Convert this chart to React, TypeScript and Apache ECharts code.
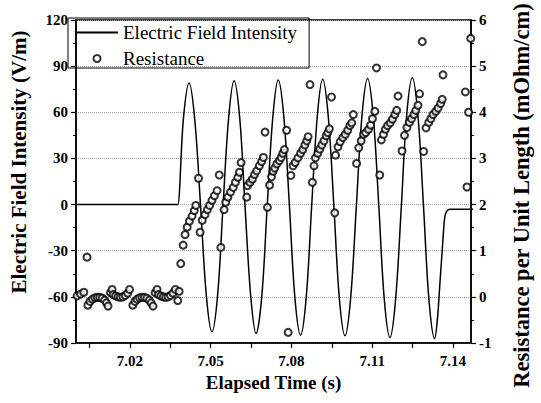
import React, { useEffect, useRef } from "react";
import * as echarts from "echarts";

const FONT = "Liberation Serif";

const timeTicks = [7.005, 7.02, 7.035, 7.05, 7.065, 7.08, 7.095, 7.11, 7.125, 7.14];
const timeLabels = [7.02, 7.05, 7.08, 7.11, 7.14];

const fieldTime = [
  7.0, 7.0375, 7.0378, 7.0399, 7.042,
  7.0441, 7.0463, 7.0484, 7.0505,
  7.0526, 7.0546, 7.0567, 7.0587,
  7.0608, 7.0628, 7.0649, 7.0669,
  7.069, 7.071, 7.0731, 7.0751,
  7.0772, 7.0793, 7.0813, 7.0834,
  7.0855, 7.0875, 7.0896, 7.0916,
  7.0937, 7.0958, 7.0978, 7.0999,
  7.102, 7.1041, 7.1062, 7.1083,
  7.1104, 7.1125, 7.1145, 7.1166,
  7.1187, 7.1208, 7.1228, 7.1249,
  7.127, 7.1291, 7.1311, 7.1332,
  7.1342, 7.1352, 7.1362, 7.1369, 7.1376, 7.1388, 7.149,
];
const fieldValue = [
  0, 0, 0, 56, 79,
  55.3, -1.9, -59, -82.7,
  -58.8, -1.1, 56.6, 80.5,
  56.4, -1.7, -59.7, -83.8,
  -59.7, -1.4, 56.9, 81,
  56.7, -2, -60.6, -84.9,
  -60.5, -1.7, 57.1, 81.5,
  57.1, -1.9, -60.9, -85.3,
  -60.8, -1.7, 57.5, 82,
  57.3, -2.2, -61.7, -86.4,
  -61.6, -2, 57.7, 82.5,
  57.7, -2.3, -62.3, -87.1,
  -75, -50, -25, -9, -4.5, -3, -3,
];

const resTime = [
  7.0004, 7.0017, 7.0029, 7.0041, 7.0044, 7.0052, 7.0061, 7.007, 7.0079, 7.0088, 7.0097, 7.0106, 7.0113, 7.0119, 7.0128, 7.0134, 7.0138, 7.0147, 7.0156, 7.0165, 7.0174, 7.0183, 7.0192, 7.0199,
  7.0211, 7.0219, 7.0227, 7.0236, 7.0245, 7.0254, 7.0263, 7.0272, 7.0279, 7.0286, 7.0294, 7.0301, 7.0306, 7.0315, 7.0324, 7.0333, 7.0342, 7.0351, 7.036, 7.0369, 7.0378, 7.0383, 7.0389,
  7.0398, 7.0405, 7.0413, 7.0421, 7.0431, 7.0439, 7.0445, 7.0455, 7.0461, 7.0469, 7.0479, 7.0488, 7.0496, 7.0505, 7.0514, 7.0524, 7.0532, 7.0538,
  7.055, 7.0556, 7.0564, 7.0574, 7.0584, 7.0592, 7.0601, 7.0607, 7.0613, 7.0634,
  7.0637, 7.0646, 7.0655, 7.0663, 7.0671, 7.0681, 7.0689, 7.0696, 7.0702, 7.0711,
  7.0719, 7.0726, 7.0732, 7.0738, 7.0746, 7.0755, 7.0762, 7.0768, 7.0774, 7.0782, 7.0788, 7.0798,
  7.0806, 7.0814, 7.0824, 7.0834, 7.0842, 7.085, 7.0857, 7.0862, 7.0869, 7.0878,
  7.0884, 7.0889, 7.0898, 7.0905, 7.0913, 7.0921, 7.0929, 7.0935, 7.0941, 7.0949, 7.0961,
  7.0964, 7.0973, 7.0981, 7.0991, 7.1, 7.1009, 7.1017, 7.1024, 7.103, 7.1042,
  7.105, 7.1059, 7.1068, 7.1076, 7.1086, 7.1094, 7.1101, 7.111, 7.1116, 7.1128,
  7.1134, 7.1142, 7.1149, 7.1157, 7.1167, 7.1175, 7.1184, 7.1191, 7.1196, 7.1211,
  7.122, 7.1229, 7.1238, 7.1246, 7.1255, 7.1262, 7.127, 7.1276, 7.1286, 7.1291,
  7.13, 7.131, 7.1318, 7.1326, 7.1336, 7.1345, 7.1354, 7.136, 7.1363,
  7.1446, 7.1452, 7.1458, 7.1466,
];
const resValue = [
  0.02, 0.06, 0.1, 0.86, -0.18, -0.1, -0.05, -0.02, -0.01, -0.01, -0.03, -0.07, -0.13, -0.2, 0.09, 0.16, 0.05, 0.02, 0.0, -0.01, 0.0, 0.03, 0.08, 0.16,
  -0.18, -0.1, -0.05, -0.02, -0.01, -0.01, -0.03, -0.07, -0.13, -0.2, 0.09, 0.16, 0.05, 0.02, 0.0, -0.01, 0.0, 0.03, 0.08, 0.16, -0.08, 0.12, 0.72,
  1.12, 1.35, 1.51, 1.64, 1.75, 1.87, 1.98, 2.57, 1.4, 1.66, 1.78, 1.89, 1.98, 2.09, 2.19, 2.3, 2.64, 1.07,
  1.89, 2.05, 2.16, 2.27, 2.37, 2.48, 2.59, 2.7, 2.91, 2.16,
  2.41, 2.48, 2.55, 2.65, 2.73, 2.84, 2.93, 3.02, 3.57, 1.94,
  2.42, 2.6, 2.72, 2.79, 2.88, 2.95, 3.02, 3.11, 3.19, 3.61, -0.77, 2.63,
  2.84, 2.91, 3.01, 3.11, 3.19, 3.29, 3.38, 3.47, 4.6, 2.48,
  2.84, 3.01, 3.11, 3.2, 3.29, 3.38, 3.49, 3.56, 3.64, 4.33, 1.82,
  3.07, 3.25, 3.36, 3.45, 3.52, 3.61, 3.71, 3.77, 3.95, 2.89,
  3.23, 3.38, 3.52, 3.56, 3.63, 3.72, 3.86, 4.02, 4.96, 2.64,
  3.4, 3.52, 3.63, 3.71, 3.77, 3.85, 3.95, 4.04, 4.35, 3.16,
  3.5, 3.67, 3.78, 3.86, 3.95, 4.04, 4.15, 4.4, 5.53, 3.15,
  3.66, 3.78, 3.86, 3.95, 4.02, 4.09, 4.19, 4.28, 4.81,
  4.44, 2.38, 4.0, 5.6,
];

const labelStyle = {
  fontFamily: FONT,
  fontWeight: "bold" as const,
  fontSize: 15,
  color: "#000",
};
const nameStyle = {
  fontFamily: FONT,
  fontWeight: "bold" as const,
  color: "#000",
};

export default function App() {
  const ref = useRef<HTMLDivElement>(null);

  useEffect(() => {
    document.body.style.margin = "0";
    if (!ref.current) return;
    const chart = echarts.init(ref.current, null, { renderer: "svg" });
    const axisLine = { show: true, onZero: false, lineStyle: { color: "#000", width: 1.5 } };
    const tick = { show: true, inside: false, length: 5, lineStyle: { color: "#000", width: 1.2 } };
    const minor = { show: true, splitNumber: 2, length: 3, lineStyle: { color: "#000", width: 1 } };

    chart.setOption({
      animation: false,
      backgroundColor: "#fff",
      textStyle: { fontFamily: FONT },
      grid: {
        left: 68,
        right: 61,
        top: 18,
        bottom: 60,
        show: true,
        borderColor: "#000",
        borderWidth: 1.5,
        backgroundColor: "transparent",
      },
      legend: {
        orient: "vertical",
        left: 68,
        top: 18,
        padding: [5, 12, 0, 7],
        itemWidth: 42,
        itemHeight: 7,
        itemGap: 7,
        borderColor: "#000",
        borderWidth: 1,
        textStyle: { fontFamily: FONT, fontSize: 19, color: "#000" },
        data: [
          { name: "Electric Field Intensity", itemStyle: { opacity: 0, borderWidth: 0 } },
          { name: "Resistance", icon: "emptyCircle" },
        ],
      },
      xAxis: {
        type: "value",
        min: 7.0,
        max: 7.1467,
        axisLine,
        axisTick: { ...tick, customValues: timeTicks },
        axisLabel: {
          ...labelStyle,
          margin: 10,
          customValues: timeLabels,
          formatter: (v: number) => v.toFixed(2),
        },
        splitLine: { show: false },
        name: "Elapsed Time (s)",
        nameLocation: "middle",
        nameGap: 30,
        nameMoveOverlap: false,
        nameTextStyle: { ...nameStyle, fontSize: 19 },
      },
      yAxis: [
        {
          type: "value",
          position: "left",
          min: -90,
          max: 120,
          interval: 30,
          axisLine,
          axisTick: tick,
          minorTick: minor,
          axisLabel: { ...labelStyle, margin: 8 },
          splitLine: { show: true, lineStyle: { color: "#9a9a9a", type: "dotted", width: 1 } },
          name: "Electric Field Intensity (V/m)",
          nameLocation: "middle",
          nameRotate: 90,
          nameGap: 47,
          nameMoveOverlap: false,
          nameTextStyle: { ...nameStyle, fontSize: 21, padding: [0, 0, 0, 39] },
        },
        {
          type: "value",
          position: "right",
          min: -1,
          max: 6,
          interval: 1,
          axisLine,
          axisTick: tick,
          minorTick: minor,
          axisLabel: { ...labelStyle, margin: 8 },
          splitLine: { show: false },
          name: "Resistance per Unit Length (mOhm/cm)",
          nameLocation: "middle",
          nameRotate: 90,
          nameGap: 39,
          nameMoveOverlap: false,
          nameTextStyle: { ...nameStyle, fontSize: 22.5, padding: [0, 28, 0, 0] },
        },
      ],
      series: [
        {
          name: "Electric Field Intensity",
          type: "line",
          yAxisIndex: 0,
          data: fieldTime.map((t, i) => [t, fieldValue[i]]),
          symbol: "none",
          smooth: 0.35,
          lineStyle: { color: "#000", width: 1.5 },
          itemStyle: { color: "#000" },
          z: 2,
        },
        {
          name: "Resistance",
          type: "scatter",
          yAxisIndex: 1,
          data: resTime.map((t, i) => [t, resValue[i]]),
          symbol: "emptyCircle",
          symbolSize: 7,
          itemStyle: { color: "#000", borderColor: "#000", borderWidth: 0.9 },
          z: 3,
        },
      ],
    });
    return () => chart.dispose();
  }, []);

  return <div ref={ref} style={{ width: 541, height: 403 }} />;
}
